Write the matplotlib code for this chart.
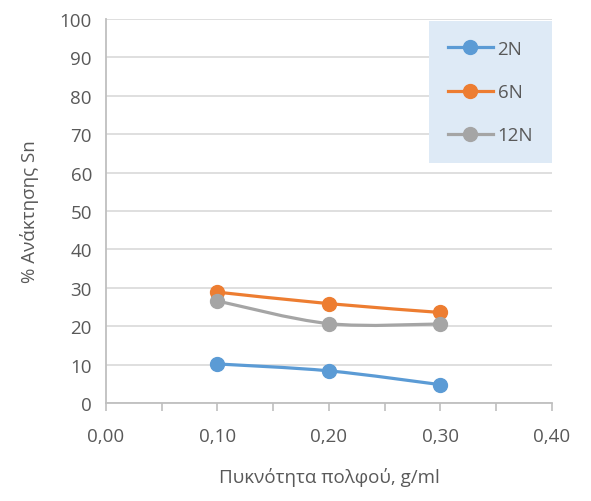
import matplotlib
matplotlib.use("Agg")
import matplotlib.pyplot as plt
from matplotlib.path import Path
from matplotlib.patches import PathPatch
from matplotlib.lines import Line2D
from matplotlib.ticker import MultipleLocator, FuncFormatter

density = [0.10, 0.20, 0.30]
series_names = ["2N", "6N", "12N"]
recovery_2n = [10.2, 8.4, 4.8]
recovery_6n = [28.9, 25.9, 23.6]
recovery_12n = [26.6, 20.7, 20.6]
colors = ["#5B9BD5", "#ED7D31", "#A5A5A5"]
x_ticks = [0.0, 0.1, 0.2, 0.3, 0.4]
y_ticks = list(range(0, 101, 10))

text_color = "#595959"
plt.rcParams["font.family"] = ["Open Sans", "DejaVu Sans"]


def smooth_path(xs, ys):
    """Catmull-Rom style Bezier curve through the points."""
    pts = list(zip(xs, ys))
    verts = [pts[0]]
    codes = [Path.MOVETO]
    n = len(pts)
    for i in range(n - 1):
        p0 = pts[i - 1] if i > 0 else pts[i]
        p1 = pts[i]
        p2 = pts[i + 1]
        p3 = pts[i + 2] if i + 2 < n else pts[i + 1]
        c1 = (p1[0] + (p2[0] - p0[0]) / 6, p1[1] + (p2[1] - p0[1]) / 6)
        c2 = (p2[0] - (p3[0] - p1[0]) / 6, p2[1] - (p3[1] - p1[1]) / 6)
        verts += [c1, c2, p2]
        codes += [Path.CURVE4] * 3
    return Path(verts, codes)


fig = plt.figure(figsize=(5.91, 5.02), dpi=100)
ax = fig.add_axes([0.179, 0.195, 0.755, 0.765])

handles = []
for name, vals, col in zip(series_names, [recovery_2n, recovery_6n, recovery_12n], colors):
    patch = PathPatch(smooth_path(density, vals), facecolor="none", edgecolor=col,
                      lw=2.3, capstyle="round", joinstyle="round", zorder=3)
    ax.add_patch(patch)
    ax.plot(density, vals, linestyle="none", marker="o", markersize=10,
            color=col, zorder=4)
    handles.append(Line2D([], [], color=col, lw=2.3, marker="o", markersize=10))

ax.set_xlim(0, 0.4)
ax.set_ylim(0, 100)
ax.set_xticks(x_ticks)
ax.xaxis.set_minor_locator(MultipleLocator(0.05))
ax.xaxis.set_major_formatter(FuncFormatter(lambda v, p: f"{v:.2f}".replace(".", ",")))
ax.set_yticks(y_ticks)

ax.grid(axis="y", color="#D9D9D9", lw=1.2, zorder=0)
for s in ["top", "right"]:
    ax.spines[s].set_visible(False)
for s in ["left", "bottom"]:
    ax.spines[s].set_color("#BFBFBF")
    ax.spines[s].set_linewidth(1.3)

ax.tick_params(axis="x", which="both", direction="out", length=6, width=1.2,
               color="#BFBFBF", labelsize=13.5, labelcolor=text_color, pad=11)
ax.tick_params(axis="y", length=0, labelsize=13.5, labelcolor=text_color, pad=10)

ax.set_xlabel("Πυκνότητα πολφού, g/ml", fontsize=13.5, color=text_color, labelpad=16)
ax.set_ylabel("% Ανάκτησης Sn", fontsize=13.5, color=text_color, labelpad=15)

leg = ax.legend(handles, series_names, loc="upper right", bbox_to_anchor=(1.0, 0.995),
                fontsize=13.5, frameon=True, fancybox=False, handlelength=2.4,
                labelspacing=1.35, borderpad=1.0, handletextpad=0.25,
                borderaxespad=0)
leg.get_frame().set_facecolor("#DEEAF6")
leg.get_frame().set_edgecolor("none")
leg.get_frame().set_alpha(1)
for t in leg.get_texts():
    t.set_color(text_color)

fig.savefig("out.png", dpi=100)
